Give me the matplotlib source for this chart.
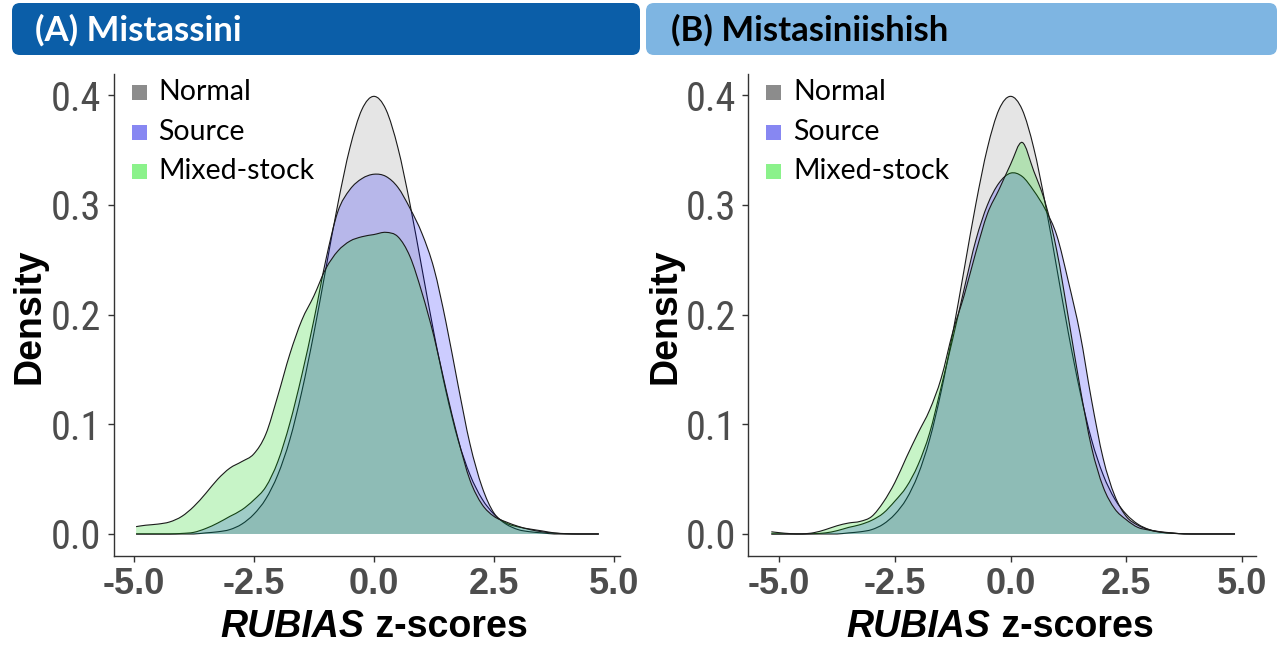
import matplotlib
matplotlib.use("Agg")
import matplotlib.pyplot as plt
from matplotlib.patches import FancyBboxPatch, Rectangle, PathPatch
from matplotlib.path import Path
from matplotlib import font_manager

# ---------------- data ----------------
GROUPS = ["Normal", "Source", "Mixed-stock"]
PANEL_TITLES = ["(A) Mistassini", "(B) Mistasiniishish"]
X_TICKS = [-5.0, -2.5, 0.0, 2.5, 5.0]
X_TICK_LABELS = ["-5.0", "-2.5", "0.0", "2.5", "5.0"]
Y_TICKS = [0.0, 0.1, 0.2, 0.3, 0.4]
Y_TICK_LABELS = ["0.0", "0.1", "0.2", "0.3", "0.4"]

# Mistassini density estimates
XA = [-4.95, -4.75, -4.5, -4.25, -4.0, -3.75, -3.5, -3.25, -3.0, -2.75,
      -2.5, -2.25, -2.0, -1.75, -1.5, -1.25, -1.0, -0.75, -0.5, -0.25,
      0.0, 0.25, 0.5, 0.75, 1.0, 1.25, 1.5, 1.75, 2.0, 2.25,
      2.5, 2.75, 3.0, 3.25, 3.5, 3.75, 4.0, 4.25, 4.5, 4.68]
NORMAL_A = [0.000, 0.000, 0.000, 0.000, 0.000, 0.000, 0.001, 0.002, 0.004, 0.009,
            0.018, 0.032, 0.054, 0.086, 0.130, 0.183, 0.242, 0.301, 0.352, 0.387,
            0.399, 0.387, 0.352, 0.301, 0.242, 0.183, 0.130, 0.086, 0.054, 0.032,
            0.018, 0.009, 0.004, 0.002, 0.001, 0.000, 0.000, 0.000, 0.000, 0.000]
SOURCE_A = [0.000, 0.000, 0.000, 0.000, 0.0005, 0.0015, 0.005, 0.010, 0.016, 0.022,
            0.031, 0.043, 0.066, 0.101, 0.145, 0.195, 0.250, 0.294, 0.314, 0.324,
            0.328, 0.326, 0.316, 0.297, 0.274, 0.242, 0.193, 0.136, 0.082, 0.043,
            0.019, 0.010, 0.0065, 0.0045, 0.0028, 0.001, 0.0003, 0.000, 0.000, 0.000]
MIXED_A = [0.0067, 0.008, 0.009, 0.011, 0.016, 0.025, 0.037, 0.050, 0.060, 0.066,
           0.073, 0.091, 0.126, 0.164, 0.195, 0.217, 0.242, 0.258, 0.267, 0.271,
           0.273, 0.275, 0.271, 0.253, 0.220, 0.180, 0.132, 0.087, 0.049, 0.027,
           0.016, 0.011, 0.007, 0.004, 0.002, 0.0008, 0.0002, 0.000, 0.000, 0.000]

# Mistasiniishish density estimates
XB = [-5.17, -5.0, -4.75, -4.5, -4.25, -4.0, -3.75, -3.5, -3.25, -3.0,
      -2.75, -2.5, -2.25, -2.0, -1.75, -1.5, -1.25, -1.0, -0.75, -0.5,
      -0.25, 0.0, 0.25, 0.5, 0.75, 1.0, 1.25, 1.5, 1.75, 2.0,
      2.25, 2.5, 2.75, 3.0, 3.25, 3.5, 3.75, 4.0, 4.25, 4.5,
      4.75, 4.85]
NORMAL_B = [0.000, 0.000, 0.000, 0.000, 0.000, 0.000, 0.000, 0.001, 0.002, 0.004,
            0.009, 0.018, 0.032, 0.054, 0.086, 0.130, 0.183, 0.242, 0.301, 0.352,
            0.387, 0.399, 0.387, 0.352, 0.301, 0.242, 0.183, 0.130, 0.086, 0.054,
            0.032, 0.018, 0.009, 0.004, 0.002, 0.001, 0.000, 0.000, 0.000, 0.000,
            0.000, 0.000]
SOURCE_B = [0.000, 0.000, 0.000, 0.000, 0.0003, 0.001, 0.003, 0.006, 0.0085, 0.0125,
            0.019, 0.030, 0.043, 0.063, 0.092, 0.134, 0.178, 0.224, 0.268, 0.300,
            0.320, 0.329, 0.326, 0.313, 0.296, 0.272, 0.230, 0.183, 0.122, 0.069,
            0.035, 0.016, 0.008, 0.0038, 0.0017, 0.0007, 0.0002, 0.000, 0.000, 0.000,
            0.000, 0.000]
MIXED_B = [0.002, 0.0012, 0.0003, 0.0001, 0.0012, 0.004, 0.0075, 0.010, 0.0115, 0.016,
           0.029, 0.047, 0.070, 0.092, 0.113, 0.142, 0.184, 0.218, 0.257, 0.292,
           0.314, 0.337, 0.357, 0.331, 0.302, 0.258, 0.197, 0.134, 0.079, 0.043,
           0.023, 0.013, 0.006, 0.0035, 0.0015, 0.0006, 0.0001, 0.000, 0.000, 0.000,
           0.000, 0.000]

# ---------------- style ----------------
def pick_font(*names):
    for n in names:
        try:
            font_manager.findfont(font_manager.FontProperties(family=n),
                                  fallback_to_default=False)
            return n
        except Exception:
            pass
    return "DejaVu Sans"

SANS = pick_font("Liberation Sans", "Arial", "DejaVu Sans")
NARROW = pick_font("Liberation Sans Narrow", "Arial Narrow", "Roboto Condensed", SANS)
HUMANIST = pick_font("Lato", "Open Sans", "Noto Sans", SANS)

FILL = {"Normal": ("#000000", 0.10),
        "Source": ("#0000FF", 0.20),
        "Mixed-stock": ("#00D000", 0.22)}
KEY = {"Normal": "#8C8C8C", "Source": "#8787F2", "Mixed-stock": "#8BF28B"}
TICK_GREY = "#4D4D4D"
LINE = "#1a1a1a"


def curve_segments(xs, ys):
    """Cubic Bezier segments (Catmull-Rom style) passing through every point."""
    n = len(xs)
    verts = [(xs[0], ys[0])]
    codes = []
    for i in range(n - 1):
        x0, y0 = xs[max(i - 1, 0)], ys[max(i - 1, 0)]
        x1, y1 = xs[i], ys[i]
        x2, y2 = xs[i + 1], ys[i + 1]
        x3, y3 = xs[min(i + 2, n - 1)], ys[min(i + 2, n - 1)]
        c1 = (x1 + (x2 - x0) / 6, max(0.0, y1 + (y2 - y0) / 6))
        c2 = (x2 - (x3 - x1) / 6, max(0.0, y2 - (y3 - y1) / 6))
        verts += [c1, c2, (x2, y2)]
        codes += [Path.CURVE4] * 3
    return verts, codes


def density_layer(ax, xs, ys, color, alpha):
    verts, codes = curve_segments(xs, ys)
    fill_path = Path([(xs[0], 0.0)] + verts + [(xs[-1], 0.0), (xs[0], 0.0)],
                     [Path.MOVETO, Path.LINETO] + codes + [Path.LINETO, Path.CLOSEPOLY])
    ax.add_patch(PathPatch(fill_path, facecolor=color, alpha=alpha, edgecolor="none"))
    line_path = Path(verts, [Path.MOVETO] + codes)
    ax.add_patch(PathPatch(line_path, facecolor="none", edgecolor=LINE, linewidth=0.8))


W, H = 1279, 646
fig = plt.figure(figsize=(W / 100, H / 100), dpi=100)


def box(left, right, top, bottom):
    return [left / W, 1 - bottom / H, (right - left) / W, (bottom - top) / H]


panels = [
    dict(rect=box(113.5, 620.4, 74.4, 555.7), xlim=(-5.42, 5.13),
         x=XA, series=[NORMAL_A, SOURCE_A, MIXED_A]),
    dict(rect=box(748.2, 1256.3, 74.4, 555.7), xlim=(-5.67, 5.31),
         x=XB, series=[NORMAL_B, SOURCE_B, MIXED_B]),
]

for p in panels:
    ax = fig.add_axes(p["rect"])
    for name, ys in zip(GROUPS, p["series"]):
        col, a = FILL[name]
        density_layer(ax, p["x"], ys, col, a)
    ax.set_xlim(*p["xlim"])
    ax.set_ylim(-0.0198, 0.419)
    ax.set_xticks(X_TICKS)
    ax.set_xticklabels(X_TICK_LABELS)
    ax.set_yticks(Y_TICKS)
    ax.set_yticklabels(Y_TICK_LABELS)
    for s in ("top", "right"):
        ax.spines[s].set_visible(False)
    for s in ("left", "bottom"):
        ax.spines[s].set_color("#333333")
        ax.spines[s].set_linewidth(1.0)
    ax.tick_params(axis="both", direction="out", length=4, width=1.0, color="#333333")
    ax.tick_params(axis="y", pad=5, labelcolor=TICK_GREY, labelsize=29)
    ax.tick_params(axis="x", pad=4, labelcolor=TICK_GREY, labelsize=26)
    for lbl in ax.get_yticklabels():
        lbl.set_fontfamily(NARROW)
    for lbl in ax.get_xticklabels():
        lbl.set_fontfamily(SANS)
        lbl.set_fontweight("bold")

# overlay in pixel coordinates for headers, legends and axis titles
ov = fig.add_axes([0, 0, 1, 1], zorder=10)
ov.set_xlim(0, W)
ov.set_ylim(H, 0)
ov.axis("off")
ov.patch.set_visible(False)

headers = [(12, 640, "#0B5EA8", "white", 35),
           (646, 1277, "#7EB5E2", "black", 671)]
for (x0, x1, fc, tc, tx), title in zip(headers, PANEL_TITLES):
    ov.add_patch(FancyBboxPatch((x0 + 8, 3 + 8), (x1 - x0) - 16, 52 - 16,
                                boxstyle="round,pad=8", fc=fc, ec="none"))
    ov.text(tx, 41, title, color=tc, fontsize=25, fontweight="bold",
            family=HUMANIST, ha="left", va="baseline")

key_tops = [85, 125, 164]
text_base = [100, 140, 179]
for dx in (0, 634.7):
    for name, kt, tb in zip(GROUPS, key_tops, text_base):
        ov.add_patch(Rectangle((131.7 + dx, kt), 15, 15, fc=KEY[name], ec="none"))
        ov.text(158.3 + dx, tb, name, fontsize=20.5, family=HUMANIST,
                color="black", ha="left", va="baseline")

for cx in (30, 665):
    ov.text(cx, 316, "Density", rotation=90, fontsize=27, fontweight="bold",
            family=SANS, ha="center", va="center", color="black")

renderer = fig.canvas.get_renderer()
for cx in (374, 1000):
    t1 = ov.text(0, 637, "RUBIAS", fontsize=27, fontweight="bold",
                 fontstyle="italic", family=SANS, ha="left", va="baseline")
    t2 = ov.text(0, 637, " z-scores", fontsize=27, fontweight="bold",
                 family=SANS, ha="left", va="baseline")
    w1 = t1.get_window_extent(renderer).width
    w2 = t2.get_window_extent(renderer).width
    start = cx - (w1 + w2) / 2
    t1.set_x(start)
    t2.set_x(start + w1)

fig.savefig("out.png", dpi=100, facecolor="white")
